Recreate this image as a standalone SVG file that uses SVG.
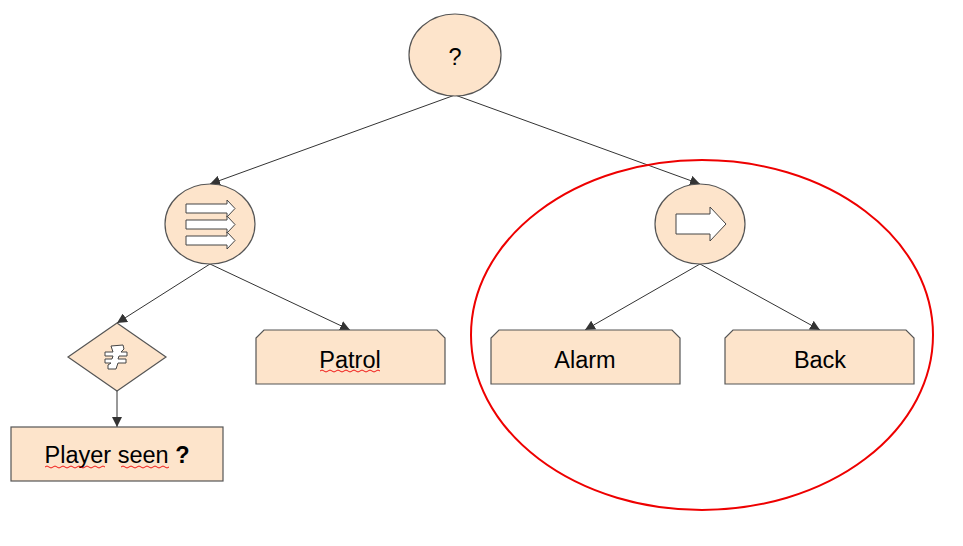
<svg xmlns="http://www.w3.org/2000/svg" width="963" height="546" viewBox="0 0 963 546">
<defs>
<style>
.n{fill:#fde4cb;stroke:#555;stroke-width:1.2}
.c{stroke:#333;stroke-width:1;fill:none}
.ic{fill:#fff;stroke:#444;stroke-width:1}
.t{font-family:"Liberation Sans",Arial,sans-serif;font-size:23.5px;fill:#000;text-anchor:middle}
.w{fill:none;stroke:#e00;stroke-width:0.9}
</style>
<marker id="ah" viewBox="0 0 10 10" refX="10" refY="5" markerWidth="10" markerHeight="10" markerUnits="userSpaceOnUse" orient="auto">
<path d="M0,0 L10,5 L0,10 Z" fill="#333"/>
</marker>
</defs>
<rect width="963" height="546" fill="#fff"/>
<g id="connectors">
<line class="c" x1="455" y1="95" x2="210" y2="184" marker-end="url(#ah)"/>
<line class="c" x1="455" y1="95" x2="700" y2="184" marker-end="url(#ah)"/>
<line class="c" x1="210" y1="264" x2="117" y2="323" marker-end="url(#ah)"/>
<line class="c" x1="210" y1="264" x2="350" y2="330" marker-end="url(#ah)"/>
<line class="c" x1="700" y1="264" x2="585" y2="330" marker-end="url(#ah)"/>
<line class="c" x1="700" y1="264" x2="820" y2="330" marker-end="url(#ah)"/>
<line class="c" x1="117" y1="391" x2="117" y2="427" marker-end="url(#ah)"/>
</g>
<g id="root">
<ellipse class="n" cx="455" cy="55" rx="46" ry="41"/>
<text class="t" x="455" y="65" font-size="26">?</text>
</g>
<g id="sequence">
<ellipse class="n" cx="210" cy="224" rx="45" ry="40"/>
<path class="ic" d="M186,204 h41 v-4 l8,8.5 l-8,8.5 v-4 h-41 z"/>
<path class="ic" d="M186,220 h41 v-4 l8,8.5 l-8,8.5 v-4 h-41 z"/>
<path class="ic" d="M186,236 h41 v-4 l8,8.5 l-8,8.5 v-4 h-41 z"/>
</g>
<g id="sequence2">
<ellipse class="n" cx="700" cy="224" rx="45" ry="40"/>
<path class="ic" d="M676,214 h34 v-7 l16,17 l-16,17 v-7 h-34 z"/>
</g>
<g id="condition">
<polygon class="n" points="117,323 166,357 117,391 68,357"/>
<path class="ic" d="M111,346 l12,-1 l1,4 l-3,3 h6 v4 h-8 l-1,3 h8 v4 h-8 l-2,6 h-8 l0,-4 l3,-2 h-6 v-4 h7 l1,-3 h-8 v-4 h8 z"/>
</g>
<g id="patrol">
<path class="n" d="M264,330 H437 L445,338 V384 H256 V338 Z"/>
<text class="t" x="350" y="368">Patrol</text>
<path class="w" d="M320,371 q2,-2 4,0 t4,0 t4,0 t4,0 t4,0 t4,0 t4,0 t4,0 t4,0 t4,0 t4,0 t4,0 t4,0 t4,0 t4,0"/>
</g>
<g id="alarm">
<path class="n" d="M499,330 H672 L680,338 V384 H491 V338 Z"/>
<text class="t" x="585" y="368">Alarm</text>
</g>
<g id="back">
<path class="n" d="M733,330 H906 L914,338 V384 H725 V338 Z"/>
<text class="t" x="820" y="368">Back</text>
</g>
<g id="playerseen">
<rect class="n" x="11" y="427" width="212" height="54"/>
<text class="t" x="117" y="463">Player seen <tspan font-weight="bold">?</tspan></text>
<path class="w" d="M45,467 q2,-2 4,0 t4,0 t4,0 t4,0 t4,0 t4,0 t4,0 t4,0 t4,0 t4,0 t4,0 t4,0 t4,0 t4,0 t4,0"/>
<path class="w" d="M121,467 q2,-2 4,0 t4,0 t4,0 t4,0 t4,0 t4,0 t4,0 t4,0 t4,0 t4,0 t4,0 t4,0"/>
</g>
<ellipse id="highlight" cx="702" cy="335" rx="231" ry="175" fill="none" stroke="#e00" stroke-width="2"/>
</svg>
